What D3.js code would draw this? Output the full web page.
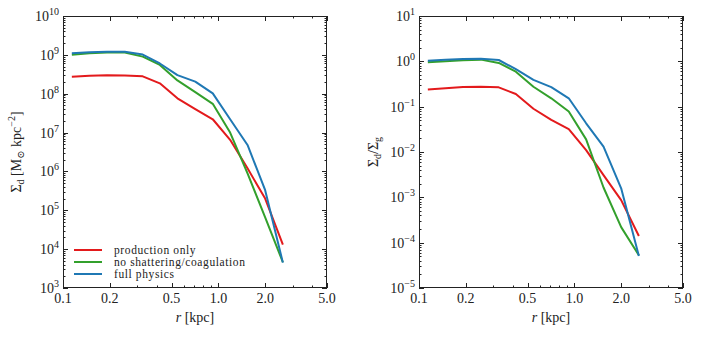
<!DOCTYPE html>
<html>
<head>
<meta charset="utf-8">
<script src="https://cdn.jsdelivr.net/npm/d3@7"></script>
<style>
  body { margin: 0; background: #fff; }
</style>
</head>
<body>
<script>
// radii of the bins (kpc)
const radius = [0.114, 0.148, 0.192, 0.25, 0.326, 0.42, 0.545, 0.71, 0.92, 1.19, 1.54, 2.0, 2.6];

// dust surface density, Msun / kpc^2
const sigmaProduction = [2.75e8, 2.9e8, 3.0e8, 2.95e8, 2.8e8, 1.85e8, 7.6e7, 4.0e7, 2.2e7, 6.5e6, 1.2e6, 2.0e5, 1.3e4];
const sigmaNoShatter = [1.0e9, 1.1e9, 1.15e9, 1.15e9, 9.0e8, 5.5e8, 2.2e8, 1.1e8, 5.5e7, 1.0e7, 8.9e5, 6.6e4, 4.6e3];
const sigmaFull = [1.1e9, 1.17e9, 1.2e9, 1.2e9, 1.02e9, 6.0e8, 3.0e8, 2.05e8, 1.02e8, 2.2e7, 4.8e6, 3.3e5, 4.5e3];

// dust to gas ratio
const ratioProduction = [0.24, 0.255, 0.27, 0.275, 0.267, 0.19, 0.09, 0.051, 0.032, 0.011, 3.1e-3, 8.7e-4, 1.4e-4];
const ratioNoShatter = [0.95, 1.0, 1.05, 1.09, 0.92, 0.59, 0.275, 0.153, 0.078, 0.019, 1.65e-3, 2.2e-4, 5.3e-5];
const ratioFull = [1.03, 1.08, 1.12, 1.14, 1.07, 0.67, 0.39, 0.27, 0.153, 0.043, 0.0131, 1.58e-3, 5.1e-5];

const seriesNames = ["production only", "no shattering/coagulation", "full physics"];
const seriesColors = ["#e31a1c", "#33a02c", "#1f78b4"];
const xTicks = [0.1, 0.2, 0.5, 1.0, 2.0, 5.0];

const FONT = "'Liberation Serif', 'DejaVu Serif', serif";

const svg = d3.select("body").append("svg")
  .attr("width", 702)
  .attr("height", 337)
  .attr("font-family", FONT);

const sup = { "-": "\u2212", "0": "0", "1": "1", "2": "2", "3": "3", "4": "4", "5": "5", "6": "6", "7": "7", "8": "8", "9": "9" };

function drawPanel(opt) {
  const { left, right, top, bottom, yDomain, series } = opt;

  const x = d3.scaleLog().domain([0.1, 5]).range([left, right]);
  const y = d3.scaleLog().domain(yDomain).range([bottom, top]);

  const g = svg.append("g");

  // ---- ticks: all four sides, pointing inward ----
  const xMinor = [];
  for (let d = 0.1; d < 5.01; d *= 10) {
    for (let k = 1; k <= 9; k++) {
      const v = +(d * k).toPrecision(3);
      if (v >= 0.1 && v <= 5) xMinor.push(v);
    }
  }
  const yMajor = [];
  const yMinor = [];
  const e0 = Math.round(Math.log10(yDomain[0]));
  const e1 = Math.round(Math.log10(yDomain[1]));
  for (let e = e0; e <= e1; e++) {
    yMajor.push(e);
    if (e < e1) for (let k = 2; k <= 9; k++) yMinor.push(k * Math.pow(10, e));
  }

  const tickG = g.append("g").attr("stroke", "#222").attr("stroke-width", 1);

  xMinor.forEach(v => {
    const isMajor = xTicks.includes(v);
    const len = isMajor ? 5 : 2.5;
    const px = Math.round(x(v)) + 0.5;
    tickG.append("line").attr("x1", px).attr("x2", px).attr("y1", bottom).attr("y2", bottom - len);
    tickG.append("line").attr("x1", px).attr("x2", px).attr("y1", top).attr("y2", top + len);
  });
  yMajor.forEach(e => {
    const py = Math.round(y(Math.pow(10, e))) + 0.5;
    tickG.append("line").attr("x1", left).attr("x2", left + 5).attr("y1", py).attr("y2", py);
    tickG.append("line").attr("x1", right).attr("x2", right - 5).attr("y1", py).attr("y2", py);
  });
  yMinor.forEach(v => {
    const py = Math.round(y(v)) + 0.5;
    tickG.append("line").attr("x1", left).attr("x2", left + 2.5).attr("y1", py).attr("y2", py);
    tickG.append("line").attr("x1", right).attr("x2", right - 2.5).attr("y1", py).attr("y2", py);
  });

  // ---- lines ----
  const line = d3.line()
    .x((d, i) => x(radius[i]))
    .y(d => y(d));

  series.forEach((s, i) => {
    g.append("path")
      .datum(s)
      .attr("fill", "none")
      .attr("stroke", seriesColors[i])
      .attr("stroke-width", 2)
      .attr("stroke-linejoin", "round")
      .attr("d", line);
  });

  // frame
  g.append("rect")
    .attr("x", left + 0.5).attr("y", top + 0.5)
    .attr("width", right - left - 1).attr("height", bottom - top - 1)
    .attr("fill", "none").attr("stroke", "#222").attr("stroke-width", 1);

  // ---- tick labels ----
  g.selectAll(".xlab")
    .data(xTicks)
    .join("text")
    .attr("class", "xlab")
    .attr("x", d => x(d))
    .attr("y", bottom + 15)
    .attr("text-anchor", "middle")
    .attr("font-size", 14)
    .attr("fill", "#222")
    .text(d => d.toFixed(1));

  yMajor.forEach(e => {
    const t = g.append("text")
      .attr("x", left - 4)
      .attr("y", y(Math.pow(10, e)) + 5)
      .attr("text-anchor", "end")
      .attr("font-size", 14)
      .attr("fill", "#222");
    t.append("tspan").text("10");
    t.append("tspan")
      .attr("font-size", 10)
      .attr("dy", -6)
      .text(String(e).split("").map(c => sup[c]).join(""));
  });

  // x label
  const xl = g.append("text")
    .attr("x", (left + right) / 2)
    .attr("y", 322)
    .attr("text-anchor", "middle")
    .attr("font-size", 14)
    .attr("fill", "#222");
  xl.append("tspan").attr("font-style", "italic").text("r");
  xl.append("tspan").text(" [kpc]");

  return { g, x, y };
}

// ---------- left panel ----------
const p1 = drawPanel({
  left: 63, right: 327, top: 16, bottom: 288,
  yDomain: [1e3, 1e10],
  series: [sigmaProduction, sigmaNoShatter, sigmaFull]
});

const yl1 = svg.append("text")
  .attr("transform", "translate(21,152) rotate(-90)")
  .attr("text-anchor", "middle")
  .attr("font-size", 14)
  .attr("fill", "#222");
yl1.append("tspan").text("\u03A3");
yl1.append("tspan").attr("font-size", 10).attr("dy", 3).text("d");
yl1.append("tspan").attr("dy", -3).text(" [M");
yl1.append("tspan").attr("font-size", 10).attr("dy", 3).text("\u2299");
yl1.append("tspan").attr("dy", -3).text(" kpc");
yl1.append("tspan").attr("font-size", 10).attr("dy", -6).text("\u22122");
yl1.append("tspan").attr("dy", 6).text("]");

// legend
const legend = svg.append("g");
seriesNames.forEach((name, i) => {
  const ly = 250 + i * 12;
  legend.append("line")
    .attr("x1", 74).attr("x2", 102)
    .attr("y1", ly).attr("y2", ly)
    .attr("stroke", seriesColors[i])
    .attr("stroke-width", 2);
  legend.append("text")
    .attr("x", 114)
    .attr("y", ly + 4)
    .attr("font-size", 11.5)
    .attr("letter-spacing", 0.6)
    .attr("fill", "#222")
    .text(name);
});

// ---------- right panel ----------
const p2 = drawPanel({
  left: 419, right: 683, top: 16, bottom: 288,
  yDomain: [1e-5, 1e1],
  series: [ratioProduction, ratioNoShatter, ratioFull]
});

const yl2 = svg.append("text")
  .attr("transform", "translate(378,152) rotate(-90)")
  .attr("text-anchor", "middle")
  .attr("font-size", 14)
  .attr("fill", "#222");
yl2.append("tspan").text("\u03A3");
yl2.append("tspan").attr("font-size", 10).attr("dy", 3).text("d");
yl2.append("tspan").attr("dy", -3).text("/\u03A3");
yl2.append("tspan").attr("font-size", 10).attr("dy", 3).text("g");
</script>
</body>
</html>
